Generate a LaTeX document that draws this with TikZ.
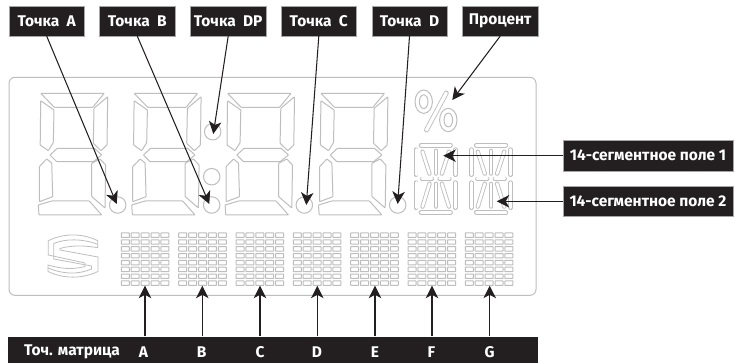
\documentclass[tikz,border=0pt]{standalone}
\usepackage{fontspec}
\setmainfont{Fira Sans}[Numbers=Lining]
\usetikzlibrary{arrows.meta}
\definecolor{lcd}{HTML}{BEBEBE}
\definecolor{ink}{HTML}{231F20}
\tikzset{
  lcdline/.style={draw=lcd,line width=1pt,line join=round,rounded corners=.6pt},
  stad/.style={draw=lcd,double=white,double distance=#1,line width=.85pt,line cap=round},
  stad/.default=3pt,
  dot/.style={circle,draw=lcd,line width=1pt,minimum size=16.5pt,inner sep=0pt},
  lbl/.style={fill=ink,text=white,inner sep=0pt,font=\bfseries\fontsize{15.5}{17}\selectfont,draw=gray!70,line width=.3pt},
  toptag/.style={lbl,minimum width=75.5pt,minimum height=30pt},
  sidetag/.style={lbl,minimum width=170.5pt,minimum height=30.2pt},
  bandtxt/.style={text=white,inner sep=0pt,font=\bfseries\fontsize{15.5}{17}\selectfont},
  conn/.style={draw=ink,line width=1.05pt,-{Stealth[length=12.5pt,width=12.5pt,inset=3.5pt]},shorten >=0pt},
  cell/.style={draw=lcd,line width=1pt,rounded corners=.4pt},
}
\newcommand{\lcddigit}[1]{%
\begin{scope}[xshift=#1 pt,yshift=-93pt]
\draw[lcdline] (.7,.3)--(64.3,.3)--(52.7,14.3)--(14.3,14.3)--cycle;
\draw[lcdline] (.7,7.7)--(14,17)--(13.3,49.7)--(8.3,57.7)--(.2,52)--cycle;
\draw[lcdline] (67.7,3.7)--(54,15.3)--(53.3,50.3)--(61,57.7)--(67,52)--cycle;
\draw[lcdline] (10,62)--(17.3,55.3)--(54.3,55.3)--(61.7,62)--(53.3,68.7)--(16.7,68.7)--cycle;
\draw[lcdline] (11.7,70)--(12.7,103.7)--(-.7,108.7)--(-.7,73.7)--(6.7,66)--cycle;
\draw[lcdline] (51.7,70.3)--(60,66)--(65.7,72)--(65,115)--(51.7,103.5)--cycle;
\draw[lcdline] (-1.7,112)--(11.7,108)--(49.3,108)--(61.7,122)--(-1,122)--cycle;
\end{scope}}
\newcommand{\segfield}[1]{%
\begin{scope}[xshift=#1 pt,yshift=-142.7pt]
\draw[stad] (7.5,2.5)--(37,2.5);
\draw[stad] (7.5,69.7)--(37,69.7);
\draw[stad] (2.5,7)--(2.5,32);
\draw[stad] (42,7)--(42,32);
\draw[stad] (2.5,40)--(2.5,65);
\draw[stad] (42,40)--(42,65);
\draw[stad=2.4pt] (22.2,8)--(22.2,31);
\draw[stad=2.4pt] (22.2,41)--(22.2,64);
\draw[stad=2.6pt] (8.5,36)--(18.5,36);
\draw[stad=2.6pt] (26,36)--(36,36);
\draw[stad=2.6pt] (9,9)--(16,31);
\draw[stad=2.6pt] (35.5,9)--(28.3,31);
\draw[stad=2.6pt] (16,41)--(9,64);
\draw[stad=2.6pt] (28.3,41)--(35.5,64);
\end{scope}}
\newcommand{\dotmatrix}[1]{%
\foreach \c in {0,...,4}{\foreach \r in {0,...,7}{%
\draw[cell] ({#1+\c*9.9},{233+\r*6.85}) rectangle ++(8,4.4);}}}
\begin{document}
\begin{tikzpicture}[x=1pt,y=-1pt]
\useasboundingbox (0,0) rectangle (737,363);
\fill[white] (0,0) rectangle (737,363);
% frame
\draw[draw=lcd,line width=1pt,rounded corners=6pt] (9,77.3) rectangle (536,295.3);
% digits
\lcddigit{40}
\lcddigit{133.4}
\lcddigit{226.8}
\lcddigit{320.2}
% dots
\node[dot] (pa) at (117.7,205) {};
\node[dot] (pb) at (211.7,205) {};
\node[dot] (pcolon) at (211.7,176.7) {};
\node[dot] (pdp) at (212.7,131.7) {};
\node[dot] (pc) at (304.3,205) {};
\node[dot] (pd) at (397.7,205) {};
% percent
\draw[draw=lcd,line width=1pt] (423.7,101.7) ellipse (8.7 and 11.7);
\draw[draw=lcd,line width=1pt] (423.7,101.7) ellipse (4.3 and 6.9);
\draw[draw=lcd,line width=1pt] (448.3,120) ellipse (8.7 and 11.7);
\draw[draw=lcd,line width=1pt] (448.3,120) ellipse (4.3 and 6.9);
\draw[stad=3.2pt] (446.3,93)--(426.5,130);
% 14-segment fields
\segfield{413.5}
\segfield{468.8}
% dot matrices
\dotmatrix{121.3}
\dotmatrix{178.7}
\dotmatrix{236}
\dotmatrix{293.3}
\dotmatrix{350.7}
\dotmatrix{408}
\dotmatrix{465.3}
% logo
\draw[draw=lcd,line width=.8pt,line join=miter]
  (97.7,240.7) .. controls (82,233) and (64,233) .. (48.3,240.7) -- (48.3,255)
  -- (85,263) -- (85,266.5) .. controls (72,270) and (60,268.5) .. (48,265)
  -- (48,271.5) .. controls (64,279) and (82,279) .. (98,271.5) -- (98,257)
  -- (60,250) -- (60,248.5) .. controls (72,245) and (85,245.5) .. (97.7,247.7) -- cycle;
\draw[draw=lcd,line width=.8pt,line join=miter]
  (97.7,244.3) .. controls (82,238.5) and (66,238.5) .. (53.8,243.5) -- (53.8,259)
  -- (91.5,266) -- (91.5,269) .. controls (78,275) and (62,274) .. (48,268);
% tags
\node[toptag] (ta) at (46.7,21) {Точка\ \ A};
\node[toptag] (tb) at (137.3,21) {Точка\ \ B};
\node[toptag] (tdp) at (228.2,21) {Точка\ \ DP};
\node[toptag] (tc) at (318.8,21) {Точка\ \ C};
\node[toptag] (td) at (409.5,21) {Точка\ \ D};
\node[toptag] (tp) at (500.2,21) {Процент};
\node[sidetag] (f1) at (648,155.7) {14-сегментное поле 1};
\node[sidetag] (f2) at (648,201.3) {14-сегментное поле 2};
\node[fill=ink,inner sep=0pt,minimum width=529.4pt,minimum height=26.3pt] (band) at (273,349.85) {};
\node[bandtxt] (bt) at (72,352) {Точ. матрица};
\node[bandtxt] (ba) at (143.5,352) {A};
\node[bandtxt] (bb) at (201.7,352) {B};
\node[bandtxt] (bc) at (260,352) {C};
\node[bandtxt] (bd) at (317,352) {D};
\node[bandtxt] (be) at (375,352) {E};
\node[bandtxt] (bf) at (431.5,352) {F};
\node[bandtxt] (bg) at (489.7,352) {G};
% arrow tips
\coordinate (ka) at (116.7,204);
\coordinate (kb) at (209.3,204);
\coordinate (kdp) at (213.3,134);
\coordinate (kc) at (306.3,205);
\coordinate (kd) at (397.7,204);
\coordinate (kp) at (452.3,100);
\coordinate (k1) at (443.3,155.7);
\coordinate (k2) at (496.7,201.3);
\foreach \t/\n in {145/a,202.3/b,260/c,317.3/d,375/e,432/f,489.7/g}{\coordinate (m\n) at (\t,285.7);}
\draw[conn] (ta.south) -- (ka);
\draw[conn] (tb.south) -- (kb);
\draw[conn] (tdp.south) -- (kdp);
\draw[conn] (tc.south) -- (kc);
\draw[conn] (td.south) -- (kd);
\draw[conn] (tp.south) -- (kp);
\draw[conn] (f1.west) -- (k1);
\draw[conn] (f2.west) -- (k2);
\foreach \n in {a,b,c,d,e,f,g}{\draw[conn] (band.north -| m\n) -- (m\n);}
\end{tikzpicture}
\end{document}
